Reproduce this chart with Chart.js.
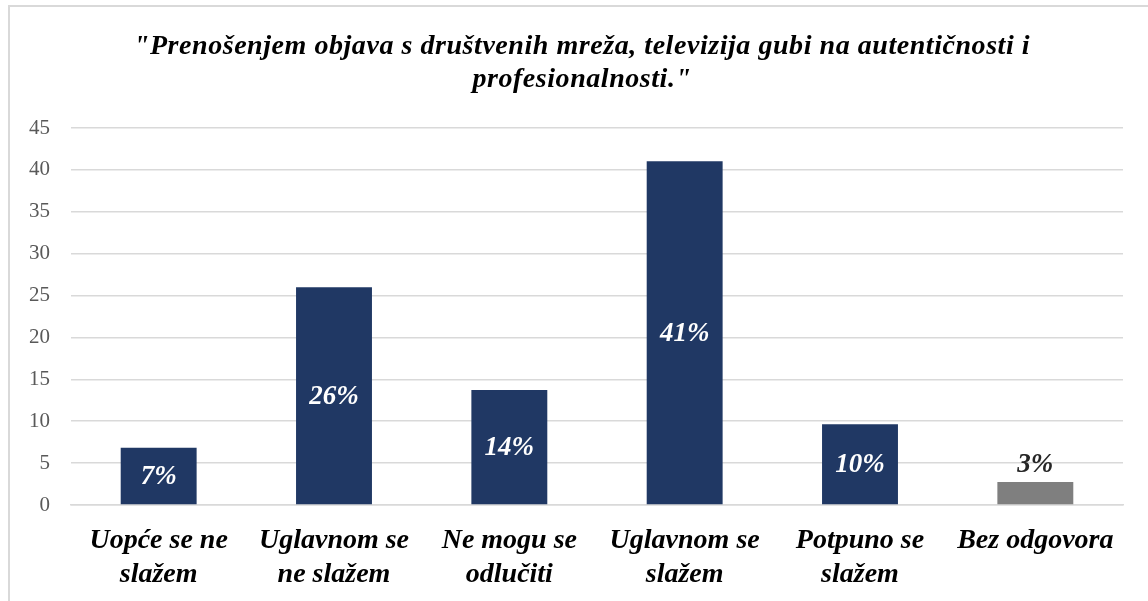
<!DOCTYPE html>
<html>
<head>
<meta charset="utf-8">
<script src="https://cdn.jsdelivr.net/npm/chart.js@4/dist/chart.umd.min.js"></script>
<style>
  html, body { margin: 0; padding: 0; background: #fff; }
  #wrap { position: relative; width: 1148px; height: 601px; overflow: hidden; background: #fff; }
  #frame { position: absolute; left: 8px; top: 5px; width: 1200px; height: 700px;
           border-top: 2px solid #d9d9d9; border-left: 2px solid #d9d9d9; pointer-events: none; }
  canvas { position: absolute; left: 0; top: 0; }
</style>
</head>
<body>
<div id="wrap">
  <canvas id="c" width="1148" height="601"></canvas>
  <div id="frame"></div>
</div>
<script>
const titleLines = ['"Prenošenjem objava s društvenih mreža, televizija gubi na autentičnosti i', 'profesionalnosti."'];
const categories = [
  ['Uopće se ne', 'slažem'],
  ['Uglavnom se', 'ne slažem'],
  ['Ne mogu se', 'odlučiti'],
  ['Uglavnom se', 'slažem'],
  ['Potpuno se', 'slažem'],
  ['Bez odgovora']
];
const values = [6.84, 25.98, 13.73, 41.02, 9.63, 2.75];
const valueLabels = ['7%', '26%', '14%', '41%', '10%', '3%'];
const barColors = ['#203864', '#203864', '#203864', '#203864', '#203864', '#7f7f7f'];
const labelInside = [true, true, true, true, true, false];
const yTicks = [0, 5, 10, 15, 20, 25, 30, 35, 40, 45];

const serif = "'Liberation Serif', 'Times New Roman', serif";

const titlePlugin = {
  id: 'customTitle',
  afterDraw(chart) {
    const ctx = chart.ctx;
    ctx.save();
    ctx.font = 'italic bold 28px ' + serif;
    ctx.fillStyle = '#000000';
    ctx.textAlign = 'center';
    ctx.textBaseline = 'middle';
    if ('letterSpacing' in ctx) ctx.letterSpacing = '0.55px';
    titleLines.forEach((line, i) => {
      ctx.fillText(line, 582, 47 + i * 33);
    });
    ctx.restore();
  }
};

const valueLabelPlugin = {
  id: 'valueLabels',
  afterDatasetsDraw(chart) {
    const ctx = chart.ctx;
    const meta = chart.getDatasetMeta(0);
    ctx.save();
    ctx.font = 'italic bold 27px ' + serif;
    ctx.textAlign = 'center';
    ctx.textBaseline = 'middle';
    meta.data.forEach((bar, i) => {
      if (labelInside[i]) {
        ctx.fillStyle = '#ffffff';
        ctx.fillText(valueLabels[i], bar.x, (bar.y + bar.base) / 2 + 1);
      } else {
        ctx.fillStyle = '#262626';
        ctx.fillText(valueLabels[i], bar.x, bar.y - 17);
      }
    });
    ctx.restore();
  }
};

new Chart(document.getElementById('c'), {
  type: 'bar',
  data: {
    labels: categories,
    datasets: [{
      data: values,
      backgroundColor: barColors,
      borderWidth: 0,
      barPercentage: 0.433,
      categoryPercentage: 1.0
    }]
  },
  options: {
    responsive: false,
    animation: false,
    devicePixelRatio: 1,
    layout: { padding: { left: 0, right: 25, top: 128, bottom: 0 } },
    plugins: {
      legend: { display: false },
      tooltip: { enabled: false },
      title: { display: false }
    },
    scales: {
      x: {
        grid: { display: false, drawTicks: false },
        border: { display: true, color: '#d9d9d9', width: 1.5 },
        ticks: {
          color: '#000000',
          font: { family: serif, size: 28, weight: 'bold', style: 'italic', lineHeight: 1.22 },
          padding: 19,
          maxRotation: 0,
          autoSkip: false
        },
        afterFit(scale) { scale.height = 96; }
      },
      y: {
        min: 0,
        max: 45,
        afterBuildTicks(scale) { scale.ticks = yTicks.map(v => ({ value: v })); },
        grid: { color: '#d9d9d9', lineWidth: 1.5, drawTicks: false },
        border: { display: false },
        ticks: {
          color: '#595959',
          font: { family: serif, size: 21 },
          padding: 21
        },
        afterFit(scale) { scale.width = 71; }
      }
    }
  },
  plugins: [valueLabelPlugin, titlePlugin]
});
</script>
</body>
</html>
